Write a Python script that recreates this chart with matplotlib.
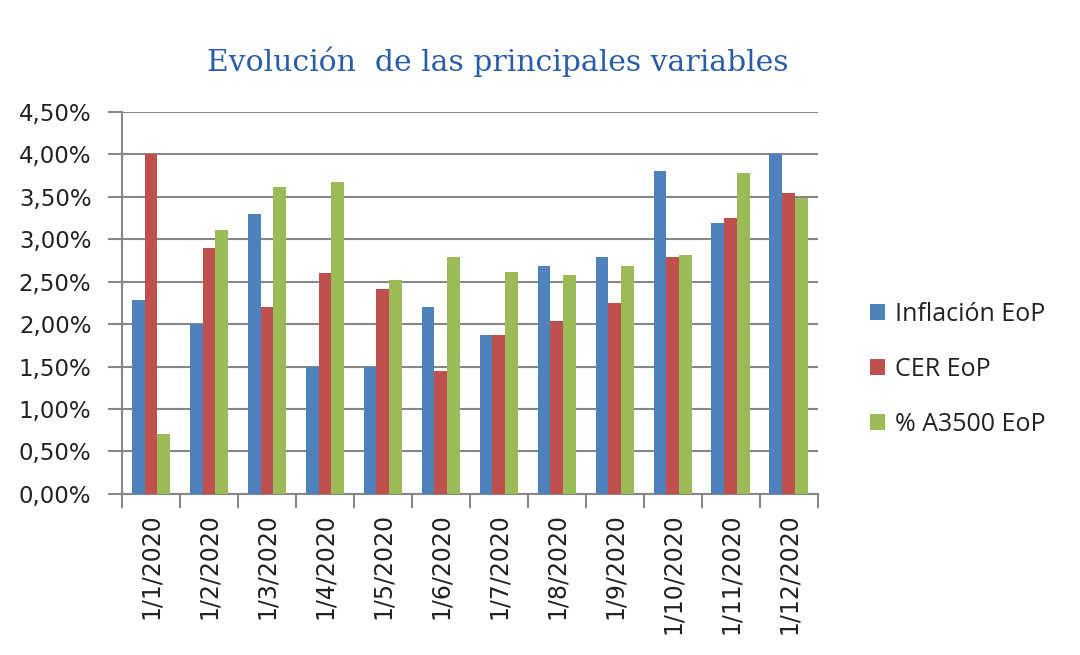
import matplotlib.pyplot as plt
import numpy as np
from matplotlib.ticker import FuncFormatter

# Datos (en %)
fechas = ["1/1/2020", "1/2/2020", "1/3/2020", "1/4/2020", "1/5/2020", "1/6/2020",
          "1/7/2020", "1/8/2020", "1/9/2020", "1/10/2020", "1/11/2020", "1/12/2020"]
inflacion = [2.28, 2.00, 3.30, 1.50, 1.50, 2.20, 1.87, 2.68, 2.79, 3.80, 3.19, 4.00]
cer = [4.00, 2.90, 2.20, 2.60, 2.41, 1.45, 1.87, 2.04, 2.25, 2.79, 3.25, 3.54]
a3500 = [0.70, 3.11, 3.62, 3.67, 2.52, 2.79, 2.62, 2.58, 2.68, 2.82, 3.78, 3.49]

series = ["Inflación EoP", "CER EoP", "% A3500 EoP"]
colores = ["#4F81BD", "#C0504D", "#9BBB59"]

fig = plt.figure(figsize=(10.8, 6.55), dpi=100)
ax = fig.add_axes([0.113, 0.246, 0.644, 0.583])

x = np.arange(len(fechas))
ancho = 0.22
for i, (vals, nombre, col) in enumerate(zip([inflacion, cer, a3500], series, colores)):
    ax.bar(x + (i - 1) * ancho, vals, width=ancho, color=col, label=nombre, zorder=3)

ax.set_xlim(-0.5, len(fechas) - 0.5)
ax.set_ylim(0, 4.5)
ax.set_yticks(np.arange(0, 4.51, 0.5))
ax.yaxis.set_major_formatter(FuncFormatter(lambda v, p: f"{v:.2f}%".replace(".", ",")))
ax.grid(axis="y", color="#878787", linewidth=1.5, zorder=0)

# marcas entre categorias
ax.set_xticks(x)
ax.set_xticklabels(fechas, rotation=90, fontsize=17, color="#222222")
ax.set_xticks(np.arange(-0.5, len(fechas)), minor=True)
ax.tick_params(axis="x", which="major", length=0, pad=14)
ax.tick_params(axis="x", which="minor", length=10, width=1.5, color="#878787")
ax.tick_params(axis="y", length=10, width=1.5, color="#878787", labelsize=16.5,
               labelcolor="#222222", pad=12)

for s in ["top", "right"]:
    ax.spines[s].set_visible(False)
for s in ["left", "bottom"]:
    ax.spines[s].set_color("#878787")
    ax.spines[s].set_linewidth(1.5)

fig.text(0.461, 0.905, "Evolución  de las principales variables", ha="center", va="center",
         fontsize=21.5, color="#2A5CAA", family="DejaVu Serif")

leg = ax.legend(loc="center left", bbox_to_anchor=(1.043, 0.327), frameon=False,
                prop={"family": "Open Sans", "size": 18}, handlelength=0.6, handleheight=0.6,
                handletextpad=0.4, labelspacing=1.2)
for t in leg.get_texts():
    t.set_color("#222222")

plt.savefig("out.png", dpi=100)
